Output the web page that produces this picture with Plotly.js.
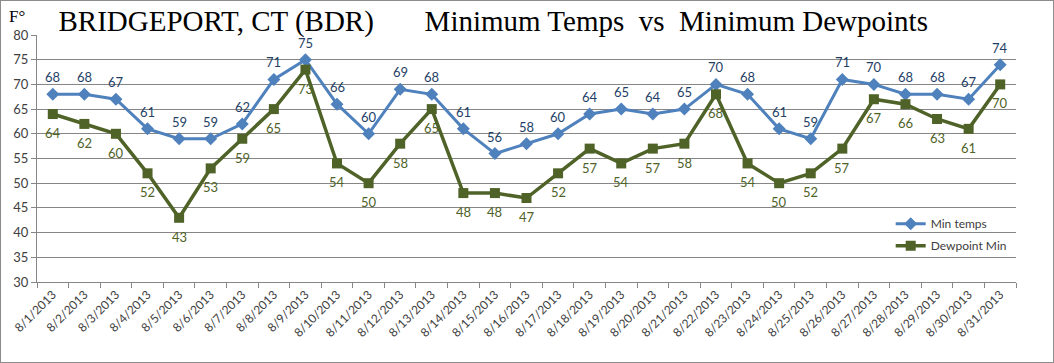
<!DOCTYPE html>
<html>
<head>
<meta charset="utf-8">
<script src="https://cdn.plot.ly/plotly-3.0.1.min.js"></script>
<style>
html,body{margin:0;padding:0;background:#fff;}
#chart{width:1052px;height:361px;border:1px solid #8c8c8c;}
</style>
</head>
<body>
<div id="chart"></div>
<script>
const dates = ["8/1/2013","8/2/2013","8/3/2013","8/4/2013","8/5/2013","8/6/2013","8/7/2013","8/8/2013","8/9/2013","8/10/2013","8/11/2013","8/12/2013","8/13/2013","8/14/2013","8/15/2013","8/16/2013","8/17/2013","8/18/2013","8/19/2013","8/20/2013","8/21/2013","8/22/2013","8/23/2013","8/24/2013","8/25/2013","8/26/2013","8/27/2013","8/28/2013","8/29/2013","8/30/2013","8/31/2013"];
const minTemps = [68,68,67,61,59,59,62,71,75,66,60,69,68,61,56,58,60,64,65,64,65,70,68,61,59,71,70,68,68,67,74];
const dewpointMin = [64,62,60,52,43,53,59,65,73,54,50,58,65,48,48,47,52,57,54,57,58,68,54,50,52,57,67,66,63,61,70];
const yTicks = [30,35,40,45,50,55,60,65,70,75,80];

const labelFont = "Lato, 'Open Sans', sans-serif";

const traces = [
  {
    x: dates, y: minTemps, name: "Min temps", type: "scatter",
    mode: "lines+markers",
    legendgroup: "a",
    line: {color: "#4F81BD", width: 3},
    marker: {symbol: "diamond", size: 10, color: "#4F81BD"},
    cliponaxis: false
  },
  {
    x: dates, y: dewpointMin, name: "Dewpoint Min", type: "scatter",
    mode: "lines+markers",
    legendgroup: "b",
    line: {color: "#4F6228", width: 3.5},
    marker: {symbol: "square", size: 10, color: "#4F6228"},
    cliponaxis: false
  }
];

const annotations = [];
dates.forEach((d, i) => {
  annotations.push({
    x: d, y: minTemps[i], xref: "x", yref: "y", text: String(minTemps[i]),
    showarrow: false, yshift: 17, xanchor: "center", yanchor: "middle",
    font: {family: labelFont, size: 13, color: "#1F3F66"}
  });
  annotations.push({
    x: d, y: dewpointMin[i], xref: "x", yref: "y", text: String(dewpointMin[i]),
    showarrow: false, yshift: -19, xanchor: "center", yanchor: "middle",
    font: {family: labelFont, size: 13, color: "#4F6228"}
  });
});
annotations.push({
  text: "F°", xref: "paper", yref: "paper",
  x: -0.031, y: 1.075, xanchor: "left", yanchor: "middle",
  showarrow: false,
  font: {family: "'Liberation Serif', 'Times New Roman', serif", size: 17, color: "#000"}
});

const layout = {
  width: 1052, height: 361,
  margin: {l: 36, r: 37, t: 34, b: 80, pad: 0},
  paper_bgcolor: "#fff", plot_bgcolor: "#fff",
  showlegend: true,
  title: {
    text: "BRIDGEPORT, CT (BDR)\u00A0\u00A0\u00A0\u00A0\u00A0\u00A0 Minimum Temps\u00A0 vs\u00A0 Minimum Dewpoints",
    font: {family: "'Liberation Serif', 'Times New Roman', serif", size: 29, color: "#000"},
    x: 0.466, xanchor: "center", xref: "paper",
    y: 0.945, yanchor: "middle", yref: "container"
  },
  font: {family: labelFont, size: 12, color: "#404040"},
  xaxis: {
    type: "category",
    tickangle: -45,
    tickson: "boundaries",
    ticks: "outside", ticklen: 5, tickcolor: "#868686",
    showline: true, linecolor: "#868686", linewidth: 1,
    showgrid: false,
    tickfont: {family: labelFont, size: 12, color: "#404040"},
    range: [-0.5, 30.5], fixedrange: true
  },
  yaxis: {
    range: [30, 80],
    tickvals: yTicks,
    ticks: "outside", ticklen: 5, tickcolor: "#868686",
    showline: true, linecolor: "#868686", linewidth: 1,
    showgrid: true, gridcolor: "#868686", gridwidth: 1,
    zeroline: false,
    tickfont: {family: labelFont, size: 13, color: "#404040"}
  },
  legend: {
    x: 0.872, y: 0.295, xanchor: "left", yanchor: "top",
    bgcolor: "rgba(0,0,0,0)",
    font: {family: labelFont, size: 12, color: "#404040"},
    tracegroupgap: 3
  },
  annotations: annotations
};

Plotly.newPlot("chart", traces, layout, {displayModeBar: false, staticPlot: true});
</script>
</body>
</html>
